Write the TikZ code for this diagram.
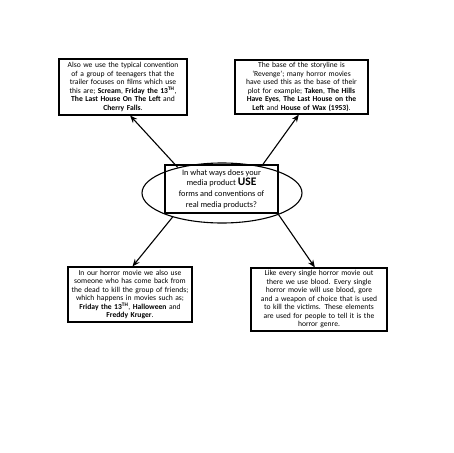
\documentclass[tikz,border=0pt]{standalone}
\usepackage{fontspec}
\setmainfont{Carlito}
\usetikzlibrary{shapes.geometric,arrows.meta,calc}
\begin{document}
\begin{tikzpicture}[x=1pt,y=-1pt,
  box/.style={draw, line width=1.1pt, inner xsep=1pt, inner ysep=2pt, align=center,
    font=\fontsize{7.6}{8.5}\selectfont},
  con/.style={line width=1.1pt, -{Stealth[length=7.5pt,width=6pt]}}]
\useasboundingbox[fill=white] (0,0) rectangle (453,453);
% top left
\node[box, text width=126pt, minimum width=128pt, minimum height=56pt] (b1) at (123,87) {%
Also we use the typical convention\\
of a group of teenagers that the\\
trailer focuses on films which use\\
this are; \textbf{Scream}, \textbf{Friday the 13\textsuperscript{TH}},\\
\textbf{The Last House On The Left} and\\
\textbf{Cherry Falls}.};
% top right
\node[box, text width=131pt, minimum width=133pt, minimum height=54pt] (b2) at (301.5,87) {%
The base of the storyline is\\
‘Revenge’; many horror movies\\
have used this as the base of their\\
plot for example; \textbf{Taken}, \textbf{The Hills}\\
\textbf{Have Eyes}, \textbf{The Last House on the}\\
\textbf{Left} and \textbf{House of Wax (1953)}.};
% bottom left
\node[box, text width=122pt, minimum width=124pt, minimum height=55pt] (b3) at (130,294.5) {%
In our horror movie we also use\\
someone who has come back from\\
the dead to kill the group of friends;\\
which happens in movies such as;\\
\textbf{Friday the 13\textsuperscript{TH}}, \textbf{Halloween} and\\
\textbf{Freddy Kruger}.};
% bottom right
\node[box, text width=134pt, minimum width=136pt, minimum height=63pt] (b4) at (319,299.5) {%
Like every single horror movie out\\
there we use blood. Every single\\
horror movie will use blood, gore\\
and a weapon of choice that is used\\
to kill the victims. These elements\\
are used for people to tell it is the\\
horror genre.};
% centre
\node[draw, ellipse, line width=1.1pt, minimum width=160pt, minimum height=60pt, inner sep=0pt] (ell) at (222,193) {};
\node[draw, line width=1.1pt, minimum width=113pt, minimum height=48pt, inner sep=1pt, align=center,
  font=\fontsize{8.3}{10.6}\selectfont] (q) at (221.5,189) {%
In what ways does your\\
media product {\fontsize{11.5}{10.6}\selectfont\textbf{USE}}\\
forms and conventions of\\
real media products?};
% connectors
\coordinate (t1) at ($(b1.south west)!0.555!(b1.south east)$);
\coordinate (t2) at ($(b2.south west)!0.48!(b2.south east)$);
\coordinate (t3) at ($(b3.north west)!0.52!(b3.north east)$);
\coordinate (t4) at ($(b4.north west)!0.47!(b4.north east)$);
\draw[con] (ell.150) -- (t1);
\draw[con] (ell.34) -- (t2);
\draw[con] (ell.206) -- (t3);
\draw[con] (ell.339) -- (t4);
\end{tikzpicture}
\end{document}
